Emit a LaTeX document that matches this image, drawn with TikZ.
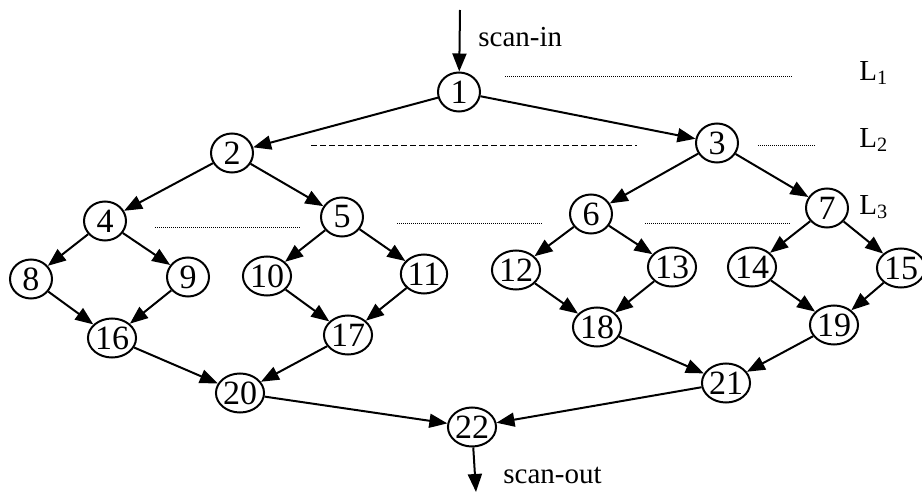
\documentclass[tikz,border=0pt]{standalone}
\usepackage{fontspec}
\setmainfont{Liberation Serif}
\usetikzlibrary{shapes.geometric,arrows.meta}
\begin{document}
\begin{tikzpicture}[x=0.5pt,y=-0.5pt,
  vtx/.style={ellipse,draw,line width=1pt,inner sep=0pt,minimum width=21pt,minimum height=19.5pt,font=\fontsize{17}{17}\selectfont},
  edge/.style={line width=1pt,-{Triangle[length=9pt,width=7pt]}},
  lbl/.style={font=\fontsize{14.5}{15}\selectfont,inner sep=0pt},
  dots/.style={dotted,line width=0.4pt,dash pattern=on 0.5pt off 0.5pt}
]
\useasboundingbox (0,0) rectangle (922,492);
\node[vtx] (n1) at (459,92) {1};
\node[vtx] (n2) at (232,153) {2};
\node[vtx] (n3) at (717,143) {3};
\node[vtx] (n4) at (105,221) {4};
\node[vtx] (n5) at (342,217) {5};
\node[vtx] (n6) at (591,214) {6};
\node[vtx] (n7) at (827,208) {7};
\node[vtx] (n8) at (31,279) {8};
\node[vtx] (n9) at (188,277) {9};
\node[vtx] (n10) at (267,276) {10};
\node[vtx] (n11) at (424,274) {11};
\node[vtx] (n12) at (516,270) {12};
\node[vtx] (n13) at (672,267) {13};
\node[vtx] (n14) at (752,267) {14};
\node[vtx] (n15) at (901,268) {15};
\node[vtx] (n16) at (112,338) {16};
\node[vtx] (n17) at (348,335) {17};
\node[vtx] (n18) at (597,327) {18};
\node[vtx] (n19) at (834,325) {19};
\node[vtx] (n20) at (240,393) {20};
\node[vtx] (n21) at (726,383) {21};
\node[vtx] (n22) at (472,427) {22};
\coordinate (in) at (460,10);
\coordinate (out) at (476,492);
\draw[edge] (in) -- (n1);
\draw[edge] (n22) -- (out);
\node[lbl,anchor=west] (tin) at (478,37) {scan-in};
\node[lbl,anchor=west] (tout) at (503,475) {scan-out};
\foreach \a/\b in {1/2,1/3,2/4,2/5,3/6,3/7,4/8,4/9,5/10,5/11,6/12,6/13,7/14,7/15,8/16,9/16,10/17,11/17,12/18,13/18,14/19,15/19,16/20,17/20,18/21,19/21,20/22,21/22}
  \draw[edge] (n\a) -- (n\b);
% level lines
\draw[dots] (505,76) -- (793,76);
\draw[dashed,line width=0.5pt,dash pattern=on 3pt off 1.5pt] (311,146) -- (637,146);
\draw[dots] (758,145) -- (816,145);
\draw[dots] (155,227) -- (300,227);
\draw[dots] (397,223) -- (542,223);
\draw[dots] (645,223) -- (790,223);
\node[lbl,anchor=west] (l1) at (859,73) {L\textsubscript{1}};
\node[lbl,anchor=west] (l2) at (859,140) {L\textsubscript{2}};
\node[lbl,anchor=west] (l3) at (859,207) {L\textsubscript{3}};
\end{tikzpicture}
\end{document}
